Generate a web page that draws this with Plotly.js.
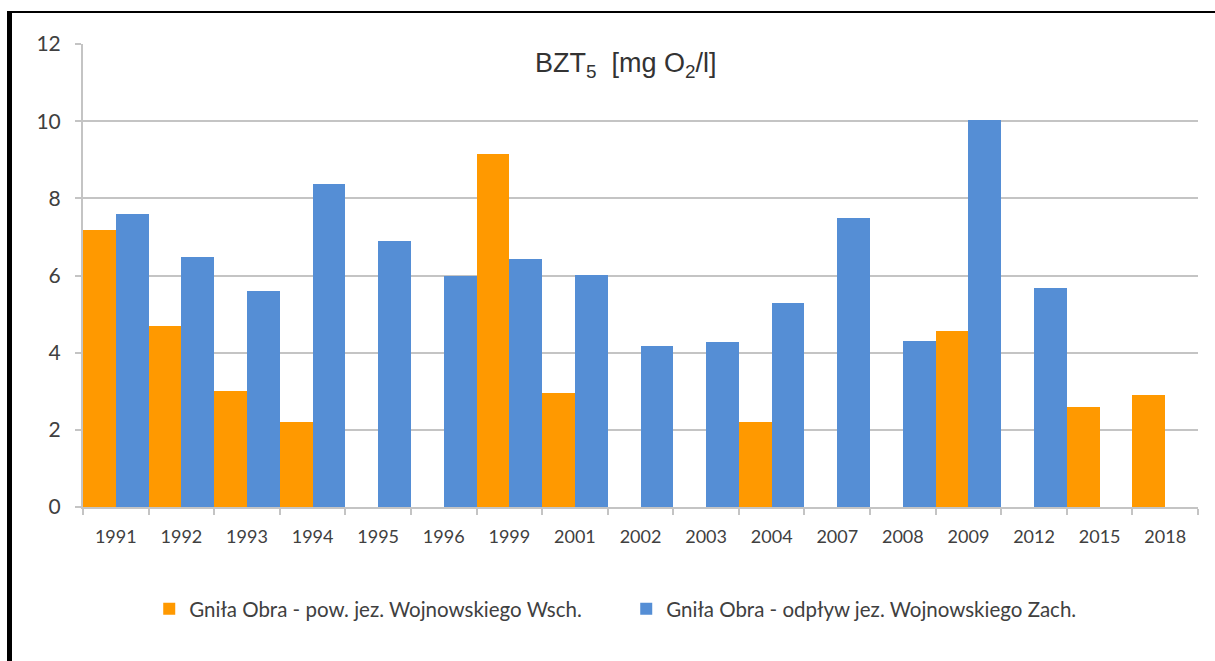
<!DOCTYPE html>
<html>
<head>
<meta charset="utf-8">
<script src="https://cdn.plot.ly/plotly-3.0.1.min.js"></script>
<style>
  html, body { margin: 0; padding: 0; background: #fff; }
  #wrap { position: relative; width: 1215px; height: 661px; overflow: hidden; }
  #chart { position: absolute; left: 0; top: 0; width: 1215px; height: 661px; }
  #frame { position: absolute; left: 7px; top: 11px; width: 1215px; height: 700px;
           border-left: 5px solid #000; border-top: 2px solid #000; pointer-events: none; }
</style>
</head>
<body>
<div id="wrap">
  <div id="chart"></div>
  <div id="frame"></div>
</div>
<script>
const years = ["1991","1992","1993","1994","1995","1996","1999","2001","2002","2003","2004","2007","2008","2009","2012","2015","2018"];
const seriesNames = ["Gniła Obra - pow. jez. Wojnowskiego Wsch.", "Gniła Obra - odpływ jez. Wojnowskiego Zach."];
const wschValues = [7.17, 4.7, 3.0, 2.2, null, null, 9.15, 2.95, null, null, 2.21, null, null, 4.55, null, 2.6, 2.9];
const zachValues = [7.6, 6.47, 5.6, 8.38, 6.9, 5.98, 6.43, 6.02, 4.18, 4.28, 5.3, 7.5, 4.3, 10.04, 5.68, null, null];
const yTicks = [0, 2, 4, 6, 8, 10, 12];
const titleText = "BZT<sub>5</sub>  [mg O<sub>2</sub>/l]";

const gridColor = "#c4c4c4";
const textColor = "#404040";

const traces = [
  { type: "bar", name: seriesNames[0], x: years, y: wschValues,
    marker: { color: "#ff9900" } },
  { type: "bar", name: seriesNames[1], x: years, y: zachValues,
    marker: { color: "#558ed5" } }
];

const layout = {
  width: 1215, height: 661,
  margin: { l: 83, r: 17, t: 43.5, b: 154 },
  paper_bgcolor: "#fff", plot_bgcolor: "#fff",
  barmode: "group", bargap: 0, bargroupgap: 0,
  showlegend: true,
  font: { family: "Lato, 'Open Sans', sans-serif", color: textColor },
  xaxis: {
    type: "category", tickson: "boundaries",
    showline: true, linecolor: gridColor, linewidth: 2,
    ticks: "outside", ticklen: 6, tickwidth: 2, tickcolor: gridColor,
    showgrid: false,
    tickfont: { size: 18, color: textColor },
    ticklabelstandoff: 12
  },
  yaxis: {
    range: [0, 12], tickvals: yTicks, ticktext: yTicks.map(String),
    showline: true, linecolor: gridColor, linewidth: 2,
    showgrid: true, gridcolor: gridColor, gridwidth: 2,
    zeroline: false,
    ticks: "outside", ticklen: 6, tickwidth: 2, tickcolor: gridColor,
    tickfont: { size: 21, color: textColor },
    ticklabelstandoff: 10
  },
  legend: {
    orientation: "h", x: 0.0594, xanchor: "left", y: -0.22, yanchor: "middle",
    font: { size: 20.5, color: textColor },
    entrywidth: 432, entrywidthmode: "pixels",
    traceorder: "normal"
  },
  annotations: [{
    xref: "paper", yref: "paper", x: 0.487, y: 0.954,
    xanchor: "center", yanchor: "middle", showarrow: false,
    text: titleText,
    font: { family: "'Liberation Sans', Arial, sans-serif", size: 27, color: "#333333" }
  }]
};

Plotly.newPlot("chart", traces, layout, { displayModeBar: false, staticPlot: true });
</script>
</body>
</html>
